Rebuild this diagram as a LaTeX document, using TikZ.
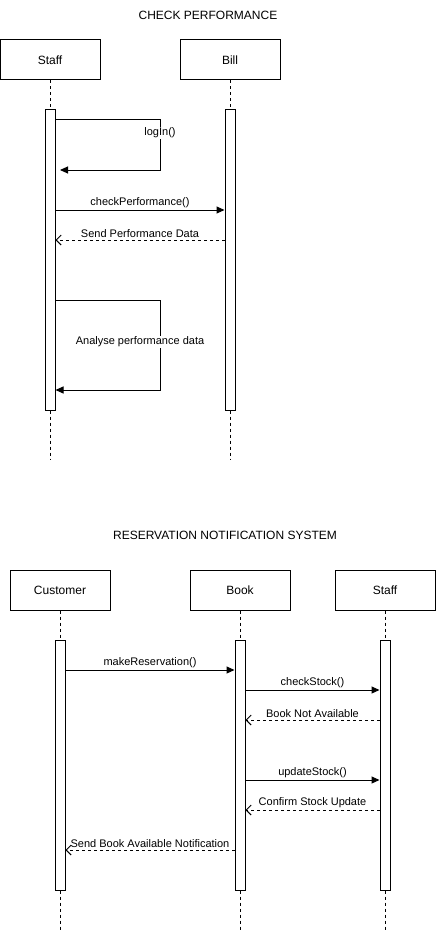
\documentclass[tikz,border=0pt]{standalone}
\usepackage{fontspec}
\setmainfont{Liberation Sans}
\usetikzlibrary{arrows.meta}
\begin{document}
\begin{tikzpicture}[x=1pt,y=-1pt,
  actor/.style={draw, line width=1pt, minimum width=100pt, minimum height=40pt, inner sep=0pt, font=\fontsize{12}{14}\selectfont},
  bar/.style={draw, fill=white, line width=1pt, minimum width=10pt, inner sep=0pt},
  life/.style={line width=1pt, dash pattern=on 3pt off 3pt},
  msg/.style={line width=1pt, -{Triangle[length=8pt,width=7pt]}},
  reply/.style={line width=1pt, dash pattern=on 3pt off 3pt, -{Straight Barb[length=5pt,width=10pt]}},
  lbl/.style={font=\fontsize{11}{13}\selectfont, inner sep=1pt},
  wlbl/.style={lbl, fill=white},
  title/.style={font=\fontsize{12}{14}\selectfont}
]
\useasboundingbox (0,0) rectangle (436,931);

% ---------- CHECK PERFORMANCE ----------
\node[title] (t1) at (208,15) {CHECK PERFORMANCE};
\node[actor] (staff) at (50,60) {Staff};
\node[actor] (bill) at (230,60) {Bill};
\coordinate (staffEnd) at (50,460);
\coordinate (billEnd) at (230,460);
\node[bar, minimum height=300pt] (sb) at (50,260) {};
\node[bar, minimum height=300pt] (bb) at (230,260) {};
\draw[life] (staff.south) -- (sb.north);
\draw[life] (sb.south) -- (staffEnd);
\draw[life] (bill.south) -- (bb.north);
\draw[life] (bb.south) -- (billEnd);

\coordinate (l1a) at (160,120);
\coordinate (l1b) at (160,170);
\coordinate (l1c) at (60,170);
\draw[msg] (sb.east |- l1a) -- (l1a) -- (l1b) -- (l1c);
\node[wlbl] (login) at (160,133) {logIn()};

\draw[msg] (sb.east |- 0,210) -- node[lbl, above=1pt] (cp) {checkPerformance()} (bb.west |- 0,210);
\draw[reply] (bb.west |- 0,240) -- node[lbl, above=1pt] (spd) {Send Performance Data} (sb.east |- 0,240);

\coordinate (l2a) at (160,300);
\coordinate (l2b) at (160,390);
\draw[msg] (sb.east |- l2a) -- (l2a) -- (l2b) -- (sb.east |- l2b);
\node[wlbl] (apd) at (140,342) {Analyse performance data};

% ---------- RESERVATION NOTIFICATION SYSTEM ----------
\node[title] (t2) at (225,535) {RESERVATION NOTIFICATION SYSTEM};
\node[actor] (cust) at (60,590) {Customer};
\node[actor] (book) at (240,590) {Book};
\node[actor] (staff2) at (385,590) {Staff};
\coordinate (custEnd) at (60,931);
\coordinate (bookEnd) at (240,931);
\coordinate (staff2End) at (385,931);
\node[bar, minimum height=250pt] (cb) at (60,765) {};
\node[bar, minimum height=250pt] (kb) at (240,765) {};
\node[bar, minimum height=250pt] (s2b) at (385,765) {};
\draw[life] (cust.south) -- (cb.north);
\draw[life] (cb.south) -- (custEnd);
\draw[life] (book.south) -- (kb.north);
\draw[life] (kb.south) -- (bookEnd);
\draw[life] (staff2.south) -- (s2b.north);
\draw[life] (s2b.south) -- (staff2End);

\draw[msg] (cb.east |- 0,670) -- node[lbl, above=1pt] (mr) {makeReservation()} (kb.west |- 0,670);
\draw[msg] (kb.east |- 0,690) -- node[lbl, above=1pt] (cs) {checkStock()} (s2b.west |- 0,690);
\draw[reply] (s2b.west |- 0,720) -- node[lbl, above=1pt] (bna) {Book Not Available} (kb.east |- 0,720);
\draw[msg] (kb.east |- 0,780) -- node[lbl, above=1pt] (us) {updateStock()} (s2b.west |- 0,780);
\draw[reply] (s2b.west |- 0,810) -- node[lbl, above=1pt] (csu) {Confirm Stock Update} (kb.east |- 0,810);
\draw[reply] (kb.west |- 0,850) -- node[lbl, above=1pt] (sban) {Send Book Available Notification} (cb.east |- 0,850);
\end{tikzpicture}
\end{document}
